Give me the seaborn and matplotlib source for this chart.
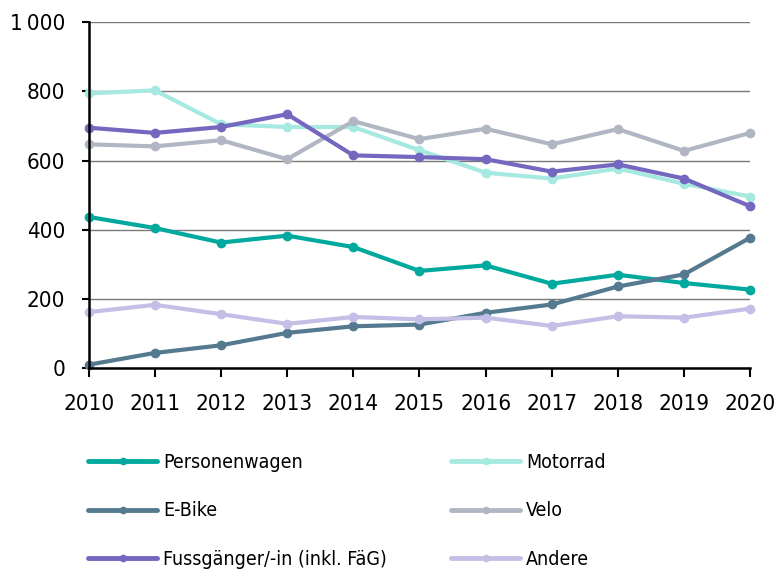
import pandas as pd
import seaborn as sns
import matplotlib.pyplot as plt
import matplotlib.ticker as mticker
from matplotlib.lines import Line2D

# Data
years = list(range(2010, 2021))
personenwagen = [437, 405, 363, 383, 350, 281, 297, 244, 270, 246, 227]
motorrad = [794, 803, 705, 697, 697, 630, 565, 548, 577, 533, 496]
ebike = [10, 44, 66, 102, 121, 126, 160, 184, 236, 271, 377]
velo = [647, 641, 659, 604, 714, 662, 692, 647, 691, 628, 680]
fussgaenger = [695, 680, 697, 734, 615, 610, 604, 568, 589, 548, 468]
andere = [162, 183, 156, 128, 148, 141, 146, 122, 150, 146, 172]

series = {
    'Personenwagen': personenwagen,
    'Motorrad': motorrad,
    'E-Bike': ebike,
    'Velo': velo,
    'Fussgänger/-in (inkl. FäG)': fussgaenger,
    'Andere': andere,
}
colors = {
    'Personenwagen': '#00a99d',
    'Motorrad': '#a5e9e0',
    'E-Bike': '#557a90',
    'Velo': '#b0b7c3',
    'Fussgänger/-in (inkl. FäG)': '#7467bf',
    'Andere': '#c4bfe6',
}

df = pd.concat(
    [pd.DataFrame({'Jahr': years, 'Wert': v, 'Kategorie': k}) for k, v in series.items()],
    ignore_index=True,
)

sns.set_style('white')
plt.rcParams['font.family'] = ['DejaVu Sans']
plt.rcParams['font.stretch'] = 'condensed'
plt.rcParams['text.color'] = 'black'

fig, ax = plt.subplots(figsize=(7.79, 5.69), dpi=100)
fig.subplots_adjust(left=0.114, right=0.963, top=0.961, bottom=0.353)

ax.yaxis.grid(True, color='#7a7a7a', linewidth=1)
ax.set_axisbelow(True)

sns.lineplot(
    data=df, x='Jahr', y='Wert', hue='Kategorie', palette=colors,
    marker='o', markersize=7, markeredgewidth=0, linewidth=3,
    legend=False, ax=ax,
)

ax.set_xlim(2010, 2020)
ax.set_ylim(0, 1000)
ax.set_xticks(years)
ax.set_yticks(range(0, 1001, 200))
ax.yaxis.set_major_formatter(mticker.FuncFormatter(
    lambda v, p: f"{int(v):,}".replace(',', '\u2009')))
ax.set_xlabel('')
ax.set_ylabel('')
ax.tick_params(axis='both', labelsize=16, colors='black', width=1.5,
               direction='out', bottom=True, left=True)
ax.tick_params(axis='x', length=6.5, pad=12)
ax.tick_params(axis='y', length=5, pad=12)
for s in ['top', 'right']:
    ax.spines[s].set_visible(False)
for s in ['left', 'bottom']:
    ax.spines[s].set_color('black')
    ax.spines[s].set_linewidth(1.8)
for line in ax.lines:
    line.set_clip_on(False)

order = ['Personenwagen', 'E-Bike', 'Fussgänger/-in (inkl. FäG)',
         'Motorrad', 'Velo', 'Andere']
handles = [Line2D([], [], color=colors[k], linewidth=3.5, marker='o',
                  markersize=5.5, markeredgewidth=0) for k in order]
fig.legend(handles, order, loc='lower left', bbox_to_anchor=(0.091, -0.03),
           ncol=2, frameon=False, handlelength=3.55,
           handletextpad=0.3, columnspacing=3.3, labelspacing=1.5,
           prop={'family': 'DejaVu Sans', 'stretch': 'condensed', 'size': 14})

plt.savefig('out.png', dpi=100)
